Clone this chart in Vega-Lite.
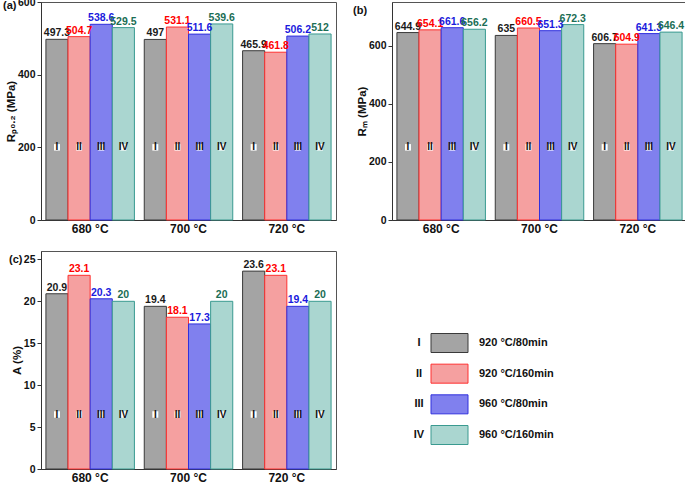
{
  "$schema": "https://vega.github.io/schema/vega-lite/v6.json",
  "autosize": {"type": "pad"},
  "padding": {"left": 2, "top": -4, "right": 0, "bottom": 0},
  "background": "white",
  "config": {
    "font": "Liberation Sans",
    "view": {"stroke": "#555", "strokeWidth": 1},
    "axis": {"labelFont": "Liberation Sans", "labelFontWeight": "bold", "labelFontSize": 10.5, "labelColor": "#111",
             "titleFont": "Liberation Sans", "titleFontWeight": "bold", "titleFontSize": 11.5, "titleColor": "#111",
             "domainColor": "#333", "tickColor": "#333", "grid": false},
    "title": {"font": "Liberation Sans", "fontWeight": "bold", "fontSize": 11, "color": "#111"}
  },
  "datasets": {
    "main": [
      {"temp": "680 °C", "series": "I", "rp": 497.3, "rm": 644.9, "a": 20.9},
      {"temp": "680 °C", "series": "II", "rp": 504.7, "rm": 654.1, "a": 23.1},
      {"temp": "680 °C", "series": "III", "rp": 538.6, "rm": 661.6, "a": 20.3},
      {"temp": "680 °C", "series": "IV", "rp": 529.5, "rm": 656.2, "a": 20},
      {"temp": "700 °C", "series": "I", "rp": 497, "rm": 635, "a": 19.4},
      {"temp": "700 °C", "series": "II", "rp": 531.1, "rm": 660.5, "a": 18.1},
      {"temp": "700 °C", "series": "III", "rp": 511.6, "rm": 651.3, "a": 17.3},
      {"temp": "700 °C", "series": "IV", "rp": 539.6, "rm": 672.3, "a": 20},
      {"temp": "720 °C", "series": "I", "rp": 465.9, "rm": 606.7, "a": 23.6},
      {"temp": "720 °C", "series": "II", "rp": 461.8, "rm": 604.9, "a": 23.1},
      {"temp": "720 °C", "series": "III", "rp": 506.2, "rm": 641.3, "a": 19.4},
      {"temp": "720 °C", "series": "IV", "rp": 512, "rm": 646.4, "a": 20}
    ],
    "legend": [
      {"series": "I", "label": "920 °C/80min"},
      {"series": "II", "label": "920 °C/160min"},
      {"series": "III", "label": "960 °C/80min"},
      {"series": "IV", "label": "960 °C/160min"}
    ]
  },
  "columns": 2,
  "spacing": {"row": 31, "column": 56},
  "bounds": "flush",
  "concat": [
    {
      "width": 295, "height": 218,
      "title": {"text": "(a)", "anchor": "start", "frame": "group", "orient": "top", "offset": -14, "dx": -38},
      "data": {"name": "main"},
      "encoding": {
        "x": {"field": "temp", "type": "nominal", "sort": null, "scale": {"paddingInner": 0.1, "paddingOuter": 0.05},
              "axis": {"title": null, "labelAngle": 0, "ticks": false, "labelFontSize": 12, "labelPadding": 3}},
        "xOffset": {"field": "series", "type": "nominal", "scale": {"paddingInner": 0, "paddingOuter": 0}}
      },
      "layer": [
        {"mark": {"type": "bar", "strokeWidth": 1},
         "encoding": {
           "y": {"field": "rp", "type": "quantitative", "scale": {"domain": [0, 600], "nice": false},
                 "axis": {"title": "Rₚ₀.₂ (MPa)", "values": [0, 100, 200, 300, 400, 500, 600], "tickSize": 4, "labelPadding": 2, "titlePadding": 1}},
           "fill": {"field": "series", "type": "nominal", "scale": {"domain": ["I", "II", "III", "IV"], "range": ["#a4a4a4", "#f5a0a0", "#8080ee", "#aad6d0"]}, "legend": null},
           "stroke": {"field": "series", "type": "nominal", "scale": {"domain": ["I", "II", "III", "IV"], "range": ["#3a3a3a", "#ff3030", "#3030dd", "#3a9a90"]}, "legend": null}
         }},
        {"mark": {"type": "text", "dy": -6, "fontWeight": "bold", "fontSize": 10.5},
         "encoding": {
           "y": {"field": "rp", "type": "quantitative"},
           "text": {"field": "rp", "type": "quantitative"},
           "color": {"field": "series", "type": "nominal", "scale": {"domain": ["I", "II", "III", "IV"], "range": ["#1a1a1a", "#ff0000", "#1a1add", "#1b6e55"]}, "legend": null}
         }},
        {"mark": {"type": "point", "shape": "M-0.46,-0.5H0.46V0.5H-0.46Z", "filled": true, "fill": "white", "opacity": 1, "size": 169},
         "encoding": {"y": {"datum": 200}}},
        {"mark": {"type": "text", "fontWeight": "bold", "fontSize": 10, "color": "#111"},
         "encoding": {"y": {"datum": 200}, "text": {"field": "series"}}}
      ]
    },
    {
      "width": 295, "height": 218,
      "title": {"text": "(b)", "anchor": "start", "frame": "group", "orient": "top", "offset": -14, "dx": -39},
      "data": {"name": "main"},
      "encoding": {
        "x": {"field": "temp", "type": "nominal", "sort": null, "scale": {"paddingInner": 0.1, "paddingOuter": 0.05},
              "axis": {"title": null, "labelAngle": 0, "ticks": false, "labelFontSize": 12, "labelPadding": 3}},
        "xOffset": {"field": "series", "type": "nominal", "scale": {"paddingInner": 0, "paddingOuter": 0}}
      },
      "layer": [
        {"mark": {"type": "bar", "strokeWidth": 1},
         "encoding": {
           "y": {"field": "rm", "type": "quantitative", "scale": {"domain": [0, 750], "nice": false},
                 "axis": {"title": "Rₘ (MPa)", "values": [0, 100, 200, 300, 400, 500, 600, 700], "tickSize": 4, "labelPadding": 2, "titlePadding": 1}},
           "fill": {"field": "series", "type": "nominal", "scale": {"domain": ["I", "II", "III", "IV"], "range": ["#a4a4a4", "#f5a0a0", "#8080ee", "#aad6d0"]}, "legend": null},
           "stroke": {"field": "series", "type": "nominal", "scale": {"domain": ["I", "II", "III", "IV"], "range": ["#3a3a3a", "#ff3030", "#3030dd", "#3a9a90"]}, "legend": null}
         }},
        {"mark": {"type": "text", "dy": -6, "fontWeight": "bold", "fontSize": 10.5},
         "encoding": {
           "y": {"field": "rm", "type": "quantitative"},
           "text": {"field": "rm", "type": "quantitative"},
           "color": {"field": "series", "type": "nominal", "scale": {"domain": ["I", "II", "III", "IV"], "range": ["#1a1a1a", "#ff0000", "#1a1add", "#1b6e55"]}, "legend": null}
         }},
        {"mark": {"type": "point", "shape": "M-0.46,-0.5H0.46V0.5H-0.46Z", "filled": true, "fill": "white", "opacity": 1, "size": 169},
         "encoding": {"y": {"datum": 250}}},
        {"mark": {"type": "text", "fontWeight": "bold", "fontSize": 10, "color": "#111"},
         "encoding": {"y": {"datum": 250}, "text": {"field": "series"}}}
      ]
    },
    {
      "width": 295, "height": 218,
      "title": {"text": "(c)", "anchor": "start", "frame": "group", "orient": "top", "offset": -14, "dx": -32},
      "data": {"name": "main"},
      "encoding": {
        "x": {"field": "temp", "type": "nominal", "sort": null, "scale": {"paddingInner": 0.1, "paddingOuter": 0.05},
              "axis": {"title": null, "labelAngle": 0, "ticks": false, "labelFontSize": 12, "labelPadding": 3}},
        "xOffset": {"field": "series", "type": "nominal", "scale": {"paddingInner": 0, "paddingOuter": 0}}
      },
      "layer": [
        {"mark": {"type": "bar", "strokeWidth": 1},
         "encoding": {
           "y": {"field": "a", "type": "quantitative", "scale": {"domain": [0, 26], "nice": false},
                 "axis": {"title": "A (%)", "values": [0, 5, 10, 15, 20, 25], "tickSize": 4, "labelPadding": 2, "titlePadding": 1}},
           "fill": {"field": "series", "type": "nominal", "scale": {"domain": ["I", "II", "III", "IV"], "range": ["#a4a4a4", "#f5a0a0", "#8080ee", "#aad6d0"]}, "legend": null},
           "stroke": {"field": "series", "type": "nominal", "scale": {"domain": ["I", "II", "III", "IV"], "range": ["#3a3a3a", "#ff3030", "#3030dd", "#3a9a90"]}, "legend": null}
         }},
        {"mark": {"type": "text", "dy": -6, "fontWeight": "bold", "fontSize": 10.5},
         "encoding": {
           "y": {"field": "a", "type": "quantitative"},
           "text": {"field": "a", "type": "quantitative"},
           "color": {"field": "series", "type": "nominal", "scale": {"domain": ["I", "II", "III", "IV"], "range": ["#1a1a1a", "#ff0000", "#1a1add", "#1b6e55"]}, "legend": null}
         }},
        {"mark": {"type": "point", "shape": "M-0.46,-0.5H0.46V0.5H-0.46Z", "filled": true, "fill": "white", "opacity": 1, "size": 169},
         "encoding": {"y": {"datum": 6.5}}},
        {"mark": {"type": "text", "fontWeight": "bold", "fontSize": 10, "color": "#111"},
         "encoding": {"y": {"datum": 6.5}, "text": {"field": "series"}}}
      ]
    },
    {
      "width": 295, "height": 218,
      "view": {"stroke": null},
      "data": {"name": "legend"},
      "encoding": {
        "y": {"field": "series", "type": "ordinal", "sort": null, "scale": {"type": "point", "range": [92, 184], "padding": 0}, "axis": null}
      },
      "layer": [
        {"mark": {"type": "text", "fontWeight": "bold", "fontSize": 11, "align": "center", "color": "#111"},
         "encoding": {"x": {"datum": 27, "type": "quantitative", "scale": {"domain": [0, 295], "nice": false}, "axis": null}, "text": {"field": "series"}}},
        {"mark": {"type": "bar", "height": 19, "strokeWidth": 1},
         "encoding": {
           "x": {"datum": 39, "type": "quantitative"}, "x2": {"datum": 76},
           "fill": {"field": "series", "type": "nominal", "scale": {"domain": ["I", "II", "III", "IV"], "range": ["#a4a4a4", "#f5a0a0", "#8080ee", "#aad6d0"]}, "legend": null},
           "stroke": {"field": "series", "type": "nominal", "scale": {"domain": ["I", "II", "III", "IV"], "range": ["#3a3a3a", "#ff3030", "#3030dd", "#3a9a90"]}, "legend": null}
         }},
        {"mark": {"type": "text", "fontWeight": "bold", "fontSize": 11, "align": "left", "color": "#111"},
         "encoding": {"x": {"datum": 87, "type": "quantitative"}, "text": {"field": "label"}}}
      ]
    }
  ]
}
